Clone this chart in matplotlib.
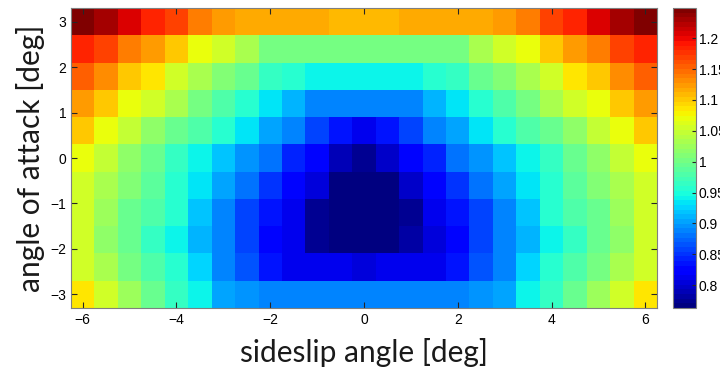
import numpy as np
import matplotlib
matplotlib.use("Agg")
import matplotlib.pyplot as plt

# grid: sideslip (columns) and angle of attack (rows, top to bottom)
beta = [-6.0, -5.5, -5.0, -4.5, -4.0, -3.5, -3.0, -2.5, -2.0, -1.5, -1.0, -0.5, 0.0,
        0.5, 1.0, 1.5, 2.0, 2.5, 3.0, 3.5, 4.0, 4.5, 5.0, 5.5, 6.0]
alpha = [3.0, 2.4, 1.8, 1.2, 0.6, 0.0, -0.6, -1.2, -1.8, -2.4, -3.0]

r_a30 = [1.249, 1.232, 1.210, 1.186, 1.166, 1.142, 1.120, 1.113, 1.113, 1.113, 1.113, 1.108, 1.108,
         1.108, 1.113, 1.113, 1.113, 1.113, 1.120, 1.142, 1.166, 1.186, 1.210, 1.232, 1.249]
r_a24 = [1.188, 1.166, 1.142, 1.120, 1.098, 1.074, 1.052, 1.029, 1.006, 1.001, 1.001, 1.001, 1.001,
         1.001, 1.001, 1.001, 1.006, 1.029, 1.052, 1.074, 1.098, 1.120, 1.142, 1.166, 1.188]
r_a18 = [1.157, 1.128, 1.103, 1.084, 1.059, 1.035, 1.013, 0.991, 0.967, 0.953, 0.945, 0.945, 0.945,
         0.945, 0.945, 0.953, 0.967, 0.991, 1.013, 1.035, 1.059, 1.084, 1.103, 1.128, 1.157]
r_a12 = [1.123, 1.098, 1.074, 1.052, 1.030, 1.006, 0.982, 0.960, 0.937, 0.914, 0.892, 0.885, 0.885,
         0.885, 0.888, 0.914, 0.937, 0.960, 0.982, 1.006, 1.030, 1.052, 1.074, 1.098, 1.123]
r_a06 = [1.098, 1.074, 1.045, 1.021, 0.996, 0.977, 0.953, 0.931, 0.904, 0.885, 0.860, 0.838, 0.812,
         0.836, 0.860, 0.885, 0.904, 0.931, 0.953, 0.977, 0.996, 1.021, 1.045, 1.074, 1.098]
r_a00 = [1.067, 1.045, 1.021, 0.996, 0.967, 0.945, 0.919, 0.899, 0.877, 0.846, 0.824, 0.793, 0.771,
         0.795, 0.824, 0.846, 0.877, 0.899, 0.919, 0.945, 0.967, 0.996, 1.021, 1.045, 1.067]
r_m06 = [1.059, 1.030, 1.011, 0.987, 0.960, 0.931, 0.904, 0.877, 0.854, 0.826, 0.802, 0.763, 0.763,
         0.763, 0.795, 0.826, 0.854, 0.877, 0.904, 0.931, 0.960, 0.987, 1.011, 1.030, 1.059]
r_m12 = [1.052, 1.025, 0.996, 0.977, 0.953, 0.919, 0.892, 0.860, 0.838, 0.809, 0.778, 0.763, 0.763,
         0.763, 0.778, 0.809, 0.838, 0.860, 0.892, 0.919, 0.953, 0.977, 0.996, 1.025, 1.052]
r_m18 = [1.052, 1.018, 0.991, 0.967, 0.938, 0.911, 0.885, 0.855, 0.831, 0.809, 0.778, 0.765, 0.763,
         0.765, 0.780, 0.806, 0.826, 0.855, 0.885, 0.911, 0.938, 0.967, 0.991, 1.018, 1.052]
r_m24 = [1.059, 1.033, 1.006, 0.982, 0.953, 0.923, 0.892, 0.865, 0.838, 0.816, 0.809, 0.809, 0.807,
         0.809, 0.809, 0.812, 0.835, 0.862, 0.892, 0.923, 0.953, 0.982, 1.006, 1.033, 1.059]
r_m30 = [1.085, 1.055, 1.025, 0.996, 0.965, 0.938, 0.904, 0.899, 0.892, 0.892, 0.892, 0.892, 0.892,
         0.892, 0.892, 0.892, 0.892, 0.899, 0.906, 0.945, 0.965, 0.996, 1.025, 1.055, 1.085]

Z = np.array([r_a30, r_a24, r_a18, r_a12, r_a06, r_a00, r_m06, r_m12, r_m18, r_m24, r_m30])

def edges(c):
    c = np.sort(np.asarray(c))
    mid = (c[1:] + c[:-1]) / 2
    return np.concatenate([[c[0] - (mid[0] - c[0])], mid, [c[-1] + (c[-1] - mid[-1])]])

xe = edges(beta)
ye = edges(alpha)
# rows are stored top-down, flip to match increasing y edges
Zp = Z[::-1]

plt.rcParams["font.family"] = ["Liberation Sans", "DejaVu Sans"]
fig = plt.figure(figsize=(7.2, 3.73), dpi=100)
ax = fig.add_axes([71/720, 65/373, 586/720, 300/373])
cmap = plt.get_cmap("jet", 64)
pc = ax.pcolormesh(xe, ye, Zp, cmap=cmap, vmin=Z.min(), vmax=Z.max(), shading="flat")

ax.set_xlim(xe[0], xe[-1]); ax.set_ylim(ye[0], ye[-1])
ax.set_xticks([-6, -4, -2, 0, 2, 4, 6])
ax.set_yticks([-3, -2, -1, 0, 1, 2, 3])
ax.tick_params(direction="in", top=True, right=True, length=4, width=0.8,
               labelsize=10, color="#262626")
for s in ax.spines.values():
    s.set_color("#7f7f7f"); s.set_linewidth(0.8)

lab_font = dict(fontsize=21.5, family=["Lato", "DejaVu Sans"], color="#1a1a1a")
ax.set_xlabel("sideslip angle [deg]", labelpad=8, **lab_font)
ax.set_ylabel("angle of attack [deg]", labelpad=4, **lab_font)

cax = fig.add_axes([673/720, 65/373, 23/720, 300/373])
cb = fig.colorbar(pc, cax=cax)
cb.set_ticks([0.8, 0.85, 0.9, 0.95, 1.0, 1.05, 1.1, 1.15, 1.2])
cb.set_ticklabels(["0.8", "0.85", "0.9", "0.95", "1", "1.05", "1.1", "1.15", "1.2"])
cax.tick_params(direction="in", length=3, width=0.8, labelsize=10, pad=2, color="#262626")
cb.outline.set_edgecolor("#7f7f7f"); cb.outline.set_linewidth(0.8)

fig.savefig("out.png", dpi=100)
